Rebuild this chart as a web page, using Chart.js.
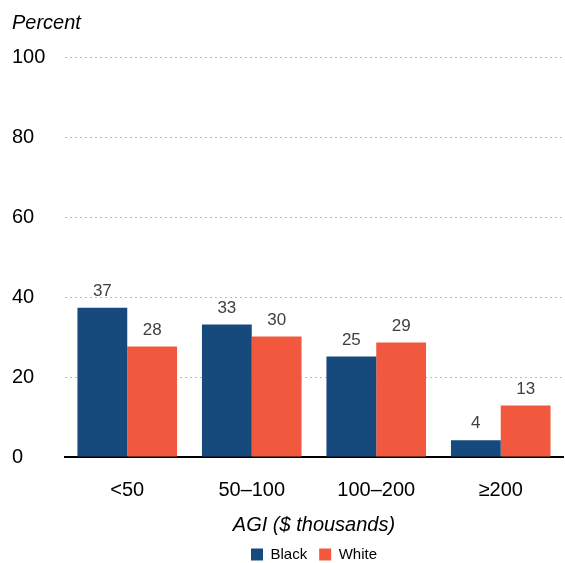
<!DOCTYPE html>
<html><head><meta charset="utf-8">
<script src="https://cdn.jsdelivr.net/npm/chart.js@4"></script>
<style>html,body{margin:0;padding:0;background:#fff}#wrap{width:565px;height:563px}</style>
</head><body><div id="wrap"><canvas id="c"></canvas></div>
<script>
const categories = ["<50", "50–100", "100–200", "≥200"];
const blackValues = [37.3, 33.1, 25.1, 4.2];
const whiteValues = [27.6, 30.1, 28.6, 12.9];
const yTicks = [0, 20, 40, 60, 80, 100];
const FONT = "'Liberation Sans', Arial, sans-serif";

const valueLabels = {
  id: 'valueLabels',
  afterDatasetsDraw(chart) {
    const ctx = chart.ctx;
    ctx.save();
    ctx.font = "17px " + FONT;
    ctx.fillStyle = "#404040";
    ctx.textAlign = "center";
    ctx.textBaseline = "bottom";
    chart.data.datasets.forEach((ds, i) => {
      chart.getDatasetMeta(i).data.forEach((bar, j) => {
        ctx.fillText(Math.round(ds.data[j]).toString(), bar.x, bar.y - 8);
      });
    });
    ctx.restore();
  }
};

new Chart(document.getElementById('c'), {
  type: 'bar',
  data: {
    labels: categories,
    datasets: [
      { label: 'Black', data: blackValues, backgroundColor: '#174A7C' },
      { label: 'White', data: whiteValues, backgroundColor: '#F2583E' }
    ]
  },
  options: {
    responsive: true,
    maintainAspectRatio: false,
    animation: false,
    devicePixelRatio: 1,
    layout: { padding: { left: 12, right: 2, top: 11, bottom: -9 } },
    datasets: { bar: { categoryPercentage: 0.8, barPercentage: 1.0 } },
    plugins: {
      title: {
        display: true, text: 'Percent', align: 'start', color: '#000',
        font: { family: FONT, size: 20, style: 'italic', weight: 'normal' },
        padding: { top: 0, bottom: 22 }
      },
      legend: {
        position: 'bottom', fullSize: false,
        labels: { color: '#000', font: { family: FONT, size: 15 }, boxWidth: 12, boxHeight: 12, padding: 12 }
      },
      tooltip: { enabled: false }
    },
    scales: {
      x: {
        grid: { display: false, drawTicks: false },
        border: { display: true, color: '#000', width: 2 },
        ticks: { color: '#000', font: { family: FONT, size: 20 }, padding: 21 },
        title: { display: true, text: 'AGI ($ thousands)', color: '#000',
          font: { family: FONT, size: 20, style: 'italic' }, padding: { top: -10, bottom: -2 } }
      },
      y: {
        min: 0, max: 100,
        afterBuildTicks(scale) { scale.ticks = yTicks.map(v => ({ value: v })); },
        afterFit(scale) { scale.width = 53; },
        grid: { color: '#bbbbbb', drawTicks: false, lineWidth: 1 },
        border: { display: false, dash: [2, 3] },
        ticks: { color: '#000', font: { family: FONT, size: 20 }, crossAlign: 'far', padding: 20 }
      }
    }
  },
  plugins: [valueLabels]
});
</script></body></html>
